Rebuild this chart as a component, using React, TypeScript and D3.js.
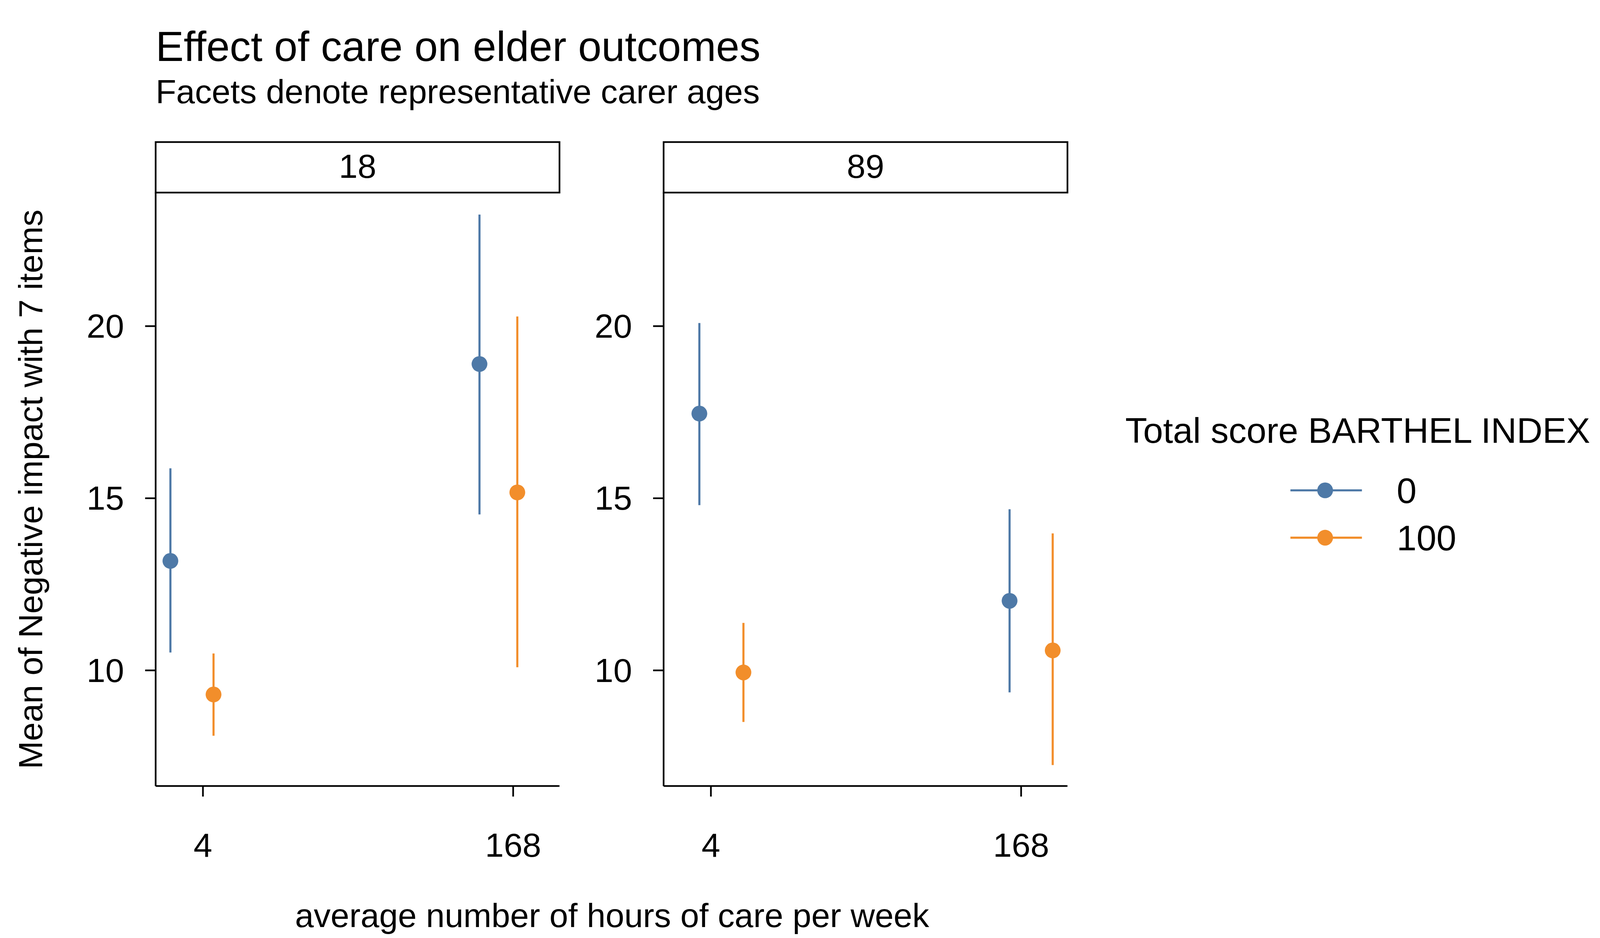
import React from "react";
import * as d3 from "d3";

const facets = ["18", "89"];
const series = ["0", "100"];
const colors = ["#4E79A7", "#F28E2B"];
const xTicks = [4, 168];
const yTicks = [10, 15, 20];
// x: hours with dodge offset, est: mean, lo/hi: interval
const blue18 = [
  { x: -13.2, est: 13.18, lo: 10.52, hi: 15.87 },
  { x: 150.2, est: 18.9, lo: 14.53, hi: 23.24 },
];
const orange18 = [
  { x: 9.6, est: 9.3, lo: 8.1, hi: 10.49 },
  { x: 170.2, est: 15.17, lo: 10.09, hi: 20.28 },
];
const blue89 = [
  { x: -2.1, est: 17.46, lo: 14.8, hi: 20.09 },
  { x: 161.9, est: 12.02, lo: 9.36, hi: 14.68 },
];
const orange89 = [
  { x: 21.2, est: 9.94, lo: 8.5, hi: 11.38 },
  { x: 184.7, est: 10.58, lo: 7.25, hi: 13.98 },
];
const panelData = [
  [blue18, orange18],
  [blue89, orange89],
];

const W = 1560;
const H = 891.4;
const panelLeft = [148, 631];
const panelW = 384;
const stripTop = 135;
const plotTop = 183;
const plotBottom = 747;
const font = "Liberation Sans, Arial, sans-serif";

export default function App() {
  const y = d3.scaleLinear().domain([6.64, 23.88]).range([plotBottom, plotTop]);
  return (
    <svg
      width={4200}
      height={2400}
      viewBox={`0 0 ${W} ${H}`}
      style={{ position: "absolute", top: 0, left: 0, background: "white" }}
      fontFamily={font}
    >
      <rect width={W} height={H} fill="white" />
      <text x={148} y={58} fontSize={40}>Effect of care on elder outcomes</text>
      <text x={148} y={98} fontSize={32}>Facets denote representative carer ages</text>

      {facets.map((f, i) => {
        const x0 = panelLeft[i];
        const x = d3.scaleLinear().domain([-21, 192.5]).range([x0, x0 + panelW]);
        return (
          <g key={f}>
            <rect x={x0} y={stripTop} width={panelW} height={plotTop - stripTop} fill="white" stroke="black" strokeWidth={1.6} />
            <text x={x0 + panelW / 2} y={plotTop - 14} fontSize={32} textAnchor="middle">{f}</text>
            <line x1={x0} x2={x0} y1={plotTop} y2={plotBottom} stroke="black" strokeWidth={1.6} />
            <line x1={x0} x2={x0 + panelW} y1={plotBottom} y2={plotBottom} stroke="black" strokeWidth={1.6} />
            {yTicks.map((t) => (
              <g key={t}>
                <line x1={x0 - 10} x2={x0} y1={y(t)} y2={y(t)} stroke="black" strokeWidth={1.6} />
                <text x={x0 - 30} y={y(t) + 11} fontSize={32} textAnchor="end">{t}</text>
              </g>
            ))}
            {xTicks.map((t) => (
              <g key={t}>
                <line x1={x(t)} x2={x(t)} y1={plotBottom} y2={plotBottom + 10} stroke="black" strokeWidth={1.6} />
                <text x={x(t)} y={plotBottom + 67} fontSize={32} textAnchor="middle">{t}</text>
              </g>
            ))}
            {panelData[i].map((s, si) =>
              s.map((d, di) => (
                <g key={`${si}-${di}`}>
                  <line x1={x(d.x)} x2={x(d.x)} y1={y(d.lo)} y2={y(d.hi)} stroke={colors[si]} strokeWidth={2} />
                  <circle cx={x(d.x)} cy={y(d.est)} r={7.5} fill={colors[si]} />
                </g>
              ))
            )}
          </g>
        );
      })}

      <text transform={`translate(40,465) rotate(-90)`} fontSize={32} textAnchor="middle">
        Mean of Negative impact with 7 items
      </text>
      <text x={582} y={881} fontSize={32} textAnchor="middle">average number of hours of care per week</text>

      <text x={1070} y={421} fontSize={34}>Total score BARTHEL INDEX</text>
      {series.map((s, i) => {
        const ly = 466 + i * 45;
        return (
          <g key={s}>
            <line x1={1227} x2={1295} y1={ly} y2={ly} stroke={colors[i]} strokeWidth={2} />
            <circle cx={1260} cy={ly} r={7.5} fill={colors[i]} />
            <text x={1328} y={ly + 12} fontSize={34}>{s}</text>
          </g>
        );
      })}
    </svg>
  );
}
